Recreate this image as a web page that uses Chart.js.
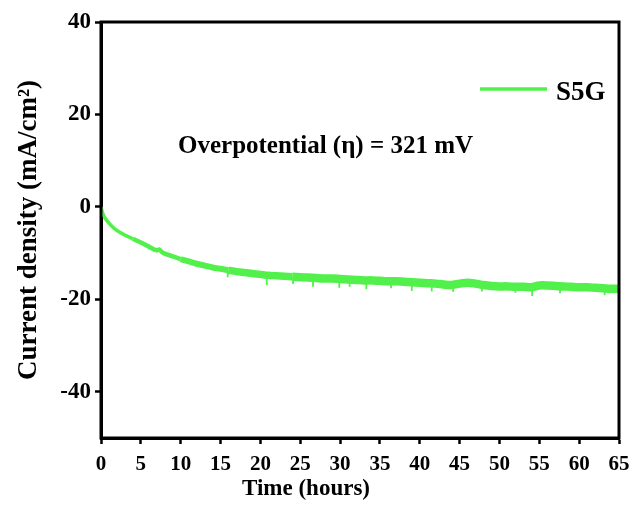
<!DOCTYPE html>
<html>
<head>
<meta charset="utf-8">
<script src="https://cdn.jsdelivr.net/npm/chart.js@4"></script>
<style>
  body { margin: 0; background: #fff; }
  #wrap { width: 634px; height: 513px; position: relative; }
</style>
</head>
<body>
<div id="wrap"><canvas id="chartCA"></canvas></div>
<script>
// chronoamperometry of S5G: time in hours, current density in mA/cm2
const tiempo = [
  0, 0.2, 0.5, 1, 1.5, 2, 3, 4, 5, 6, 7, 7.3, 7.6, 8, 9, 10, 11, 12, 13, 14, 15,
  16, 17, 18, 19, 20, 21, 22, 23, 24, 25, 26, 27, 28, 29, 30, 31, 32, 33, 34, 35,
  36, 37, 38, 39, 40, 41, 42, 43, 44, 45, 46, 47, 48, 49, 50, 51, 52, 53, 54, 55,
  56, 57, 58, 59, 60, 61, 62, 63, 64, 65
];
const densidad = [
  0, -1.3, -2.4, -3.5, -4.4, -5.1, -6.1, -6.9, -7.7, -8.6, -9.4, -9.2, -9.7, -10.1, -10.7, -11.3, -11.8, -12.3, -12.7, -13.1, -13.4,
  -13.7, -14.0, -14.2, -14.4, -14.6, -14.8, -14.9, -15.0, -15.1, -15.2, -15.3, -15.4, -15.5, -15.5, -15.6, -15.7, -15.8, -15.9, -15.9, -16.0,
  -16.1, -16.1, -16.2, -16.3, -16.4, -16.5, -16.6, -16.8, -16.9, -16.6, -16.4, -16.6, -16.9, -17.1, -17.2, -17.2, -17.3, -17.3, -17.4, -17.0,
  -17.0, -17.1, -17.2, -17.3, -17.4, -17.4, -17.5, -17.6, -17.7, -17.7
];
// picos de ruido hacia abajo
const picosT = [15.9, 20.8, 24.1, 26.6, 29.9, 31.2, 33.3, 36.4, 39.0, 41.5, 44.2, 47.8, 52.0, 54.1, 57.6, 63.2];
const picosY = [-15.2, -16.9, -16.7, -17.3, -17.5, -17.3, -17.8, -17.6, -18.2, -18.3, -18.4, -18.3, -18.6, -19.3, -18.7, -19.1];
const ticksY = [-40, -20, 0, 20, 40];
const serie = "S5G";
const nota = "Overpotential (\u03B7) = 321 mV";
const tituloX = "Time (hours)";
const tituloY = "Current density (mA/cm\u00B2)";

const VERDE = "#52f04a";
const FUENTE = "'Liberation Serif', 'Times New Roman', serif";

// cada pico sale de la banda principal (valor en la hora mas cercana)
const datosPicos = [];
picosT.forEach((t, i) => {
  const base = densidad[tiempo.indexOf(Math.round(t))];
  datosPicos.push({ x: t, y: base }, { x: t, y: picosY[i] }, { x: t, y: null });
});

// marco, leyenda, nota y titulo del eje x
const extras = {
  id: "extras",
  afterDraw(chart) {
    const { ctx, chartArea: a } = chart;
    ctx.save();
    ctx.strokeStyle = "#000";
    ctx.lineWidth = 3;
    ctx.strokeRect(a.left, a.top, a.right - a.left, a.bottom - a.top);

    // leyenda
    ctx.strokeStyle = VERDE;
    ctx.lineWidth = 3.5;
    ctx.beginPath();
    ctx.moveTo(480, 89);
    ctx.lineTo(547, 89);
    ctx.stroke();
    ctx.fillStyle = "#000";
    ctx.textAlign = "left";
    ctx.textBaseline = "alphabetic";
    ctx.font = "bold 27px " + FUENTE;
    ctx.fillText(serie, 556, 100);

    // sobrepotencial
    ctx.font = "bold 25px " + FUENTE;
    ctx.fillText(nota, 178, 153);

    // titulo eje x
    ctx.font = "bold 23px " + FUENTE;
    ctx.textAlign = "center";
    ctx.fillText(tituloX, 306, 495);
    ctx.restore();
  }
};

new Chart(document.getElementById("chartCA"), {
  type: "line",
  data: {
    datasets: [{
      label: serie,
      data: tiempo.map((t, i) => ({ x: t, y: densidad[i] })),
      borderColor: VERDE,
      borderWidth: 4,
      borderJoinStyle: "round",
      pointRadius: 0,
      tension: 0.3,
      segment: {
        borderWidth: ctx => {
          const t = ctx.p0.parsed.x;
          if (t < 4) return 3.5;
          if (t < 10) return 4.5;
          if (t < 16) return 6;
          if (t < 24) return 7.5;
          return 8.5;
        }
      }
    }, {
      label: "picos",
      data: datosPicos,
      borderColor: VERDE,
      borderWidth: 1.8,
      pointRadius: 0,
      spanGaps: false
    }]
  },
  options: {
    responsive: true,
    maintainAspectRatio: false,
    animation: false,
    layout: { padding: { left: 13, top: 22, right: 15, bottom: 0 } },
    plugins: {
      legend: { display: false },
      tooltip: { enabled: false }
    },
    scales: {
      x: {
        type: "linear",
        min: 0,
        max: 65,
        ticks: {
          stepSize: 5,
          color: "#000",
          padding: 8,
          maxRotation: 0,
          font: { family: FUENTE, size: 21, weight: "bold" }
        },
        grid: { drawOnChartArea: false, tickLength: 6, tickWidth: 2.5, tickColor: "#000" },
        border: { color: "#000", width: 3 },
        afterFit: s => { s.height = 75; s.paddingLeft = 0; s.paddingRight = 0; }
      },
      y: {
        min: -50,
        max: 40,
        afterBuildTicks: s => { s.ticks = ticksY.map(v => ({ value: v })); },
        ticks: {
          color: "#000",
          padding: 4,
          font: { family: FUENTE, size: 23, weight: "bold" }
        },
        grid: { drawOnChartArea: false, tickLength: 6, tickWidth: 2.5, tickColor: "#000" },
        border: { color: "#000", width: 3 },
        title: {
          display: true,
          text: tituloY,
          color: "#000",
          padding: 0,
          font: { family: FUENTE, size: 27, weight: "bold" }
        },
        afterFit: s => { s.width = 88; }
      }
    }
  },
  plugins: [extras]
});
</script>
</body>
</html>
